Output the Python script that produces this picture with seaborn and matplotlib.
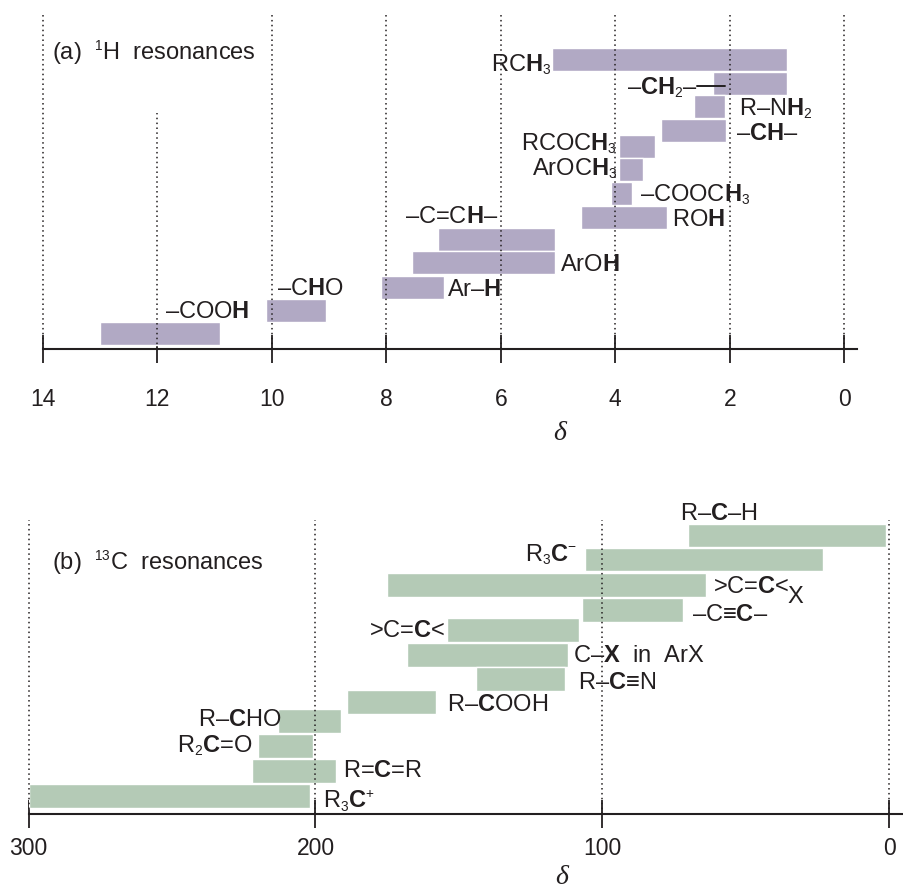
import matplotlib
matplotlib.use("Agg")
import matplotlib.pyplot as plt
import matplotlib._mathtext as _mt
import seaborn as sns

# ---------------- data ----------------
# (a) 1H resonances: chemical shift ranges (ppm)
h_groups = ["RCH3", "-CH2-", "R-NH2", "-CH-", "RCOCH3", "ArOCH3", "-COOCH3",
            "ROH", "-C=CH-", "ArOH", "Ar-H", "-CHO", "-COOH"]
h_start = [5.1, 2.3, 2.62, 3.2, 3.93, 3.93, 4.07, 4.6, 7.1, 7.55, 8.1, 10.1, 13.0]
h_end = [1.0, 1.0, 2.08, 2.07, 3.3, 3.52, 3.7, 3.1, 5.05, 5.05, 7.0, 9.05, 10.9]
h_ticks = [14, 12, 10, 8, 6, 4, 2, 0]

# (b) 13C resonances: chemical shift ranges (ppm)
c_groups = ["R-C-H", "R3C-", ">C=C<X", "-C#C-", ">C=C<", "C-X in ArX", "R-C#N",
            "R-COOH", "R-CHO", "R2C=O", "R=C=R", "R3C+"]
c_start = [70, 106, 175, 107, 154, 168, 144, 189, 213, 220, 222, 300]
c_end = [1, 23, 64, 72, 108, 112, 113, 158, 191, 201, 193, 202]
c_ticks = [300, 200, 100, 0]

# ---------------- layout (vertical slot of each bar, label placement) ----------------
h_row = [289.7, 265.7, 242.7, 218.7, 202.7, 179.7, 155.7, 131.7, 109.5, 86.7, 61.7, 38.7, 15.7]
c_row = [278.7, 254.7, 229, 204, 184, 159, 135, 112, 93, 68, 43, 18]

h_text = [
    (r"RC$\mathbf{H}_3$", 5.12, 278, "right"),
    (r"–$\mathbf{CH}_2$–", 3.80, 255, "left"),
    (r"R–N$\mathbf{H}_2$", 1.84, 234, "left"),
    (r"–$\mathbf{CH}$–", 1.89, 209, "left"),
    (r"RCOC$\mathbf{H}_3$", 3.97, 199, "right"),
    (r"ArOC$\mathbf{H}_3$", 3.97, 174, "right"),
    (r"–COOC$\mathbf{H}_3$", 3.57, 148, "left"),
    (r"RO$\mathbf{H}$", 3.01, 123, "left"),
    (r"–C=C$\mathbf{H}$–", 7.67, 126, "left"),
    (r"ArO$\mathbf{H}$", 4.97, 78, "left"),
    (r"Ar–$\mathbf{H}$", 6.94, 53, "left"),
    (r"–C$\mathbf{H}$O", 9.91, 54, "left"),
    (r"–COO$\mathbf{H}$", 11.86, 31, "left"),
]
c_text = [
    (r"R–$\mathbf{C}$–H", 72.9, 294, "left"),
    (r"R$_3$$\mathbf{C}$$^{-}$", 108.8, 253, "right"),
    (r">C=$\mathbf{C}$<", 61.4, 221, "left"),
    (r"–C≡$\mathbf{C}$–", 68.7, 193, "left"),
    (r">C=$\mathbf{C}$<", 154.8, 177, "right"),
    (r"C–$\mathbf{X}$  in  ArX", 110.2, 152, "left"),
    (r"R–$\mathbf{C}$≡N", 108.5, 125, "left"),
    (r"R–$\mathbf{C}$OOH", 154.1, 103, "left"),
    (r"R–$\mathbf{C}$HO", 211.7, 88, "right"),
    (r"R$_2$$\mathbf{C}$=O", 221.8, 62, "right"),
    (r"R=$\mathbf{C}$=R", 190.4, 37, "left"),
    (r"R$_3$$\mathbf{C}$$^{+}$", 197.4, 6, "left"),
]

H_COLOR = "#b1a9c4"
C_COLOR = "#b4cab6"
INK = "#231f20"
FS = 17

# smaller sub/superscripts, as in the printed figure
_mt.SHRINK_FACTOR = 0.58

sns.set_theme(style="white")
plt.rcParams["font.family"] = ["Liberation Sans", "DejaVu Sans"]
plt.rcParams["mathtext.fontset"] = "custom"
plt.rcParams["mathtext.rm"] = "Liberation Sans"
plt.rcParams["mathtext.bf"] = "Liberation Sans:bold"
plt.rcParams["mathtext.it"] = "Liberation Sans:italic"
plt.rcParams["mathtext.default"] = "regular"

W, H = 904, 888
fig = plt.figure(figsize=(W / 100, H / 100), dpi=100)

# ---- panel (a) ----
ax1 = fig.add_axes([42.7 / W, (H - 349) / H, (857 - 42.7) / W, 336 / H])
ax1.set_xlim(14, 14 - (857 - 42.7) / 57.26)
ax1.set_ylim(0, 336)
ax1.barh(h_row, [s - e for s, e in zip(h_start, h_end)], left=h_end, height=23,
         color=H_COLOR, edgecolor="white", linewidth=1, zorder=2)
for t in h_ticks:
    top = 236 if t == 12 else 336
    ax1.plot([t, t], [0, top], color=INK, lw=1.1, ls=(0, (1, 2.2)), zorder=3, clip_on=False)
for s, x, y, ha in h_text:
    ax1.text(x, y, s, ha=ha, va="baseline", fontsize=FS, color=INK, zorder=4)
ax1.plot([2.57, 2.09], [263, 263], color=INK, lw=1.4, zorder=4)
ax1.text(13.84, 289, r"(a)  $^{1}$H  resonances", ha="left", va="baseline",
         fontsize=FS, color=INK)

# ---- panel (b) ----
ax2 = fig.add_axes([28.7 / W, (H - 814) / H, (901.7 - 28.7) / W, 300 / H])
ax2.set_xlim(300, 300 - (901.7 - 28.7) / 2.868)
ax2.set_ylim(0, 300)
ax2.barh(c_row, [s - e for s, e in zip(c_start, c_end)], left=c_end, height=23.5,
         color=C_COLOR, edgecolor="white", linewidth=1, zorder=2)
for t in c_ticks:
    ax2.plot([t, t], [0, 294], color=INK, lw=1.1, ls=(0, (1, 2.2)), zorder=3, clip_on=False)
for s, x, y, ha in c_text:
    ax2.text(x, y, s, ha=ha, va="baseline", fontsize=FS, color=INK, zorder=4, clip_on=False)
ax2.text(35.6, 211, "X", ha="left", va="baseline", fontsize=FS, color=INK)
ax2.text(291.9, 244, r"(b)  $^{13}$C  resonances", ha="left", va="baseline",
         fontsize=FS, color=INK)

for ax, ticks, pad in ((ax1, h_ticks, 18), (ax2, c_ticks, 6.5)):
    sns.despine(ax=ax, left=True, top=True, right=True)
    ax.spines["bottom"].set_color(INK)
    ax.spines["bottom"].set_linewidth(1.5)
    ax.set_yticks([])
    ax.set_xticks(ticks)
    ax.set_xticklabels([str(t) for t in ticks])
    ax.tick_params(axis="x", direction="inout", length=20, width=1.3, color=INK,
                   labelsize=16.5, labelcolor=INK, pad=pad, bottom=True)
    ax.patch.set_alpha(0)

fig.text(560 / W, 1 - 433 / H, "δ", ha="center", va="center", fontsize=20,
         family="Liberation Serif", style="italic", color=INK)
fig.text(562 / W, 1 - 877 / H, "δ", ha="center", va="center", fontsize=20,
         family="Liberation Serif", style="italic", color=INK)

fig.savefig("out.png", dpi=100, facecolor="white")
